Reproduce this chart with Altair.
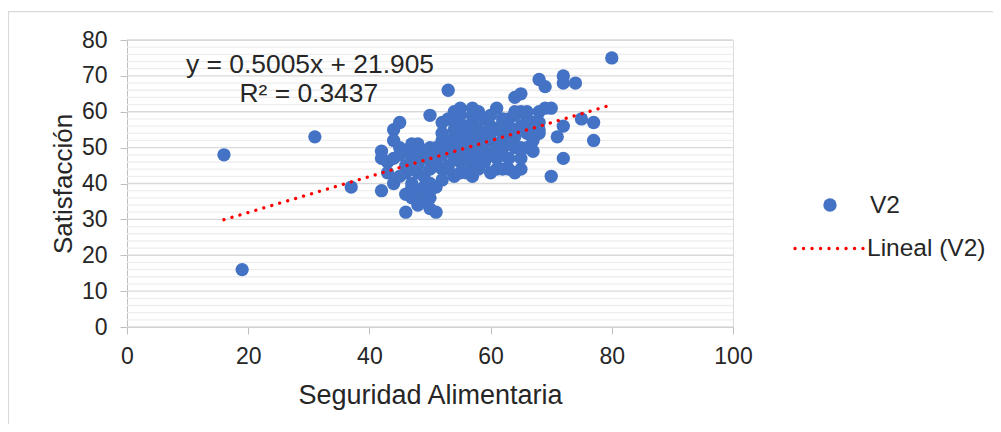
import altair as alt
import pandas as pd

# Scatter data (Seguridad Alimentaria vs Satisfacción)
seguridad = [16, 19, 31, 37, 80,
             42, 42, 42, 43, 43, 44, 44, 45, 44, 45, 44, 46, 46, 45, 46, 47, 45,
             46, 48, 50, 51, 50, 47, 49, 47, 46, 49, 48, 49, 50, 51, 47, 52,
             50, 53, 55, 57, 61, 64, 65, 68, 69, 72, 72, 74,
             47, 48, 50, 52, 52, 54, 55, 57, 59, 63, 65, 68, 70, 69, 66, 64, 62, 60,
             75, 77, 72, 77, 71, 72, 70,
             64, 65, 62, 60, 57, 54,
             67, 65, 64, 67, 68, 68, 65,
             48, 48, 49, 49, 50, 50, 50, 51, 51, 52, 52, 52, 53, 53, 53, 54, 54, 54,
             55, 55, 55, 56, 56, 56, 57, 57, 57, 58, 58, 58, 59, 59, 59, 60, 60, 60,
             61, 61, 61, 62, 62, 62, 63, 63, 63, 64, 65, 66, 66, 66, 67, 68, 57, 55,
             54, 53, 58, 60, 48, 47,
             53, 55, 56, 58, 61, 63, 51, 52, 49, 50, 54, 56, 58, 59, 61, 62, 63, 64,
             67, 66, 64, 62, 60]
satisfaccion = [48, 16, 53, 39, 75,
                38, 49, 47, 46, 43, 40, 55, 57, 52, 50, 47, 45, 43, 48, 49, 44, 42,
                32, 34, 36, 32, 33, 36, 37, 39, 37, 35, 38, 39, 38, 39, 40, 41,
                59, 66, 61, 61, 61, 64, 65, 69, 67, 70, 68, 68,
                51, 51, 50, 57, 54, 57, 56, 59, 58, 58, 60, 60, 61, 61, 60, 59, 58, 56,
                58, 57, 56, 52, 53, 47, 42,
                43, 44, 44, 43, 42, 42,
                49, 47, 50, 52, 55, 54, 50,
                45, 43, 47, 42, 44, 48, 40, 46, 50, 44, 48, 52, 45, 49, 51, 47, 50, 53,
                46, 49, 52, 47, 50, 54, 45, 49, 52, 47, 50, 55, 46, 49, 53, 48, 52, 54,
                47, 51, 55, 48, 50, 54, 47, 51, 55, 53, 56, 50, 54, 57, 55, 57, 57, 59,
                60, 58, 60, 59, 49, 47,
                44, 43, 43, 44, 44, 44, 48, 49, 49, 47, 55, 56, 53, 52, 50, 52, 53, 55,
                57, 58, 60, 57, 55]

# Linear trendline endpoints (from the displayed equation y = 0.5005x + 21.905)
trend_x = [16, 80]
trend_y = [29.913, 61.945]

# Equation annotation
eq_text = ["y = 0.5005x + 21.905", "R² = 0.3437"]
eq_x = [30.2, 30.0]
eq_y = [73.1, 64.9]

# Axis ticks and gridlines
x_ticks = [0, 20, 40, 60, 80, 100]
y_ticks = [0, 10, 20, 30, 40, 50, 60, 70, 80]
y_minor = [v for v in range(0, 81, 2) if v % 10 != 0]

legend_labels = ["V2", "Lineal (V2)"]

FONT = "Liberation Sans"
BLUE = "#4472C4"
W, H = 606, 287

pts = pd.DataFrame({"x": seguridad, "y": satisfaccion})
trend = pd.DataFrame({"x": trend_x, "y": trend_y})
eq = pd.DataFrame({"x": eq_x, "y": eq_y, "t": eq_text})

xscale = alt.Scale(domain=[0, 100], nice=False, zero=True)
yscale = alt.Scale(domain=[0, 80], nice=False, zero=True)

x_axis = alt.Axis(
    values=x_ticks, grid=False, title="Seguridad Alimentaria", labelFlush=False,
    labelOverlap=False,
    domainColor="#bfbfbf", tickColor="#bfbfbf", tickSize=7,
    labelFont=FONT, labelFontSize=23, labelColor="#262626", labelPadding=11,
    titleFont=FONT, titleFontSize=27, titleFontWeight="normal", titleColor="#262626",
    titleX=W / 2, titleY=68, titleBaseline="middle", titleAlign="center",
)
y_axis = alt.Axis(
    values=y_ticks, grid=False, title="Satisfacción", labelFlush=False,
    labelOverlap=False,
    domainColor="#bfbfbf", tickColor="#bfbfbf", tickSize=7,
    labelFont=FONT, labelFontSize=23, labelColor="#262626", labelPadding=13,
    titleFont=FONT, titleFontSize=26, titleFontWeight="normal", titleColor="#262626",
    titleX=-64, titleY=H / 2, titleAngle=270, titleBaseline="middle", titleAlign="center",
)

frame = alt.Chart(pd.DataFrame({"a": [0]})).mark_rect(
    fill="transparent", stroke="#d9d9d9", strokeWidth=1.2
).encode(
    x=alt.value(-118.5), x2=alt.value(2000), y=alt.value(-28.3), y2=alt.value(2000)
)

minor_grid = alt.Chart(pd.DataFrame({"y": y_minor})).mark_rule(
    color="#eeeeee", strokeWidth=1.3
).encode(x=alt.value(0), x2=alt.value(W), y=alt.Y("y:Q", scale=yscale, axis=y_axis))

major_grid = alt.Chart(pd.DataFrame({"y": y_ticks})).mark_rule(
    color="#d9d9d9", strokeWidth=1.3
).encode(x=alt.value(0), x2=alt.value(W), y=alt.Y("y:Q", scale=yscale, axis=y_axis))

points = alt.Chart(pts).mark_circle(size=178, color=BLUE, opacity=1).encode(
    x=alt.X("x:Q", scale=xscale, axis=x_axis),
    y=alt.Y("y:Q", scale=yscale, axis=y_axis),
)

line = alt.Chart(trend).mark_line(
    color="#FF0000", strokeWidth=3.3, strokeDash=[0.1, 8.2], strokeCap="round"
).encode(x=alt.X("x:Q", scale=xscale, axis=x_axis), y=alt.Y("y:Q", scale=yscale, axis=y_axis))

eq_marks = alt.Chart(eq).mark_text(
    font=FONT, fontSize=26.4, color="#262626", align="center", baseline="middle"
).encode(x=alt.X("x:Q", scale=xscale, axis=x_axis), y=alt.Y("y:Q", scale=yscale, axis=y_axis),
         text="t:N")

# Manual legend
leg_dot = alt.Chart(pd.DataFrame({"a": [0]})).mark_circle(size=178, color=BLUE, opacity=1).encode(
    x=alt.value(703), y=alt.value(165)
)
leg_v2 = alt.Chart(pd.DataFrame({"t": [legend_labels[0]]})).mark_text(
    font=FONT, fontSize=24.5, color="#262626", align="left", baseline="middle"
).encode(x=alt.value(743), y=alt.value(166), text="t:N")
leg_line = alt.Chart(pd.DataFrame({"a": [0]})).mark_rule(
    color="#FF0000", strokeWidth=3.3, strokeDash=[0.1, 8.4], strokeCap="round"
).encode(x=alt.value(668), x2=alt.value(736), y=alt.value(208.5))
leg_lin = alt.Chart(pd.DataFrame({"t": [legend_labels[1]]})).mark_text(
    font=FONT, fontSize=24.5, color="#262626", align="left", baseline="middle"
).encode(x=alt.value(740), y=alt.value(209), text="t:N")

chart = alt.layer(
    frame, minor_grid, major_grid, points, line, eq_marks,
    leg_dot, leg_v2, leg_line, leg_lin
).properties(
    width=W, height=H,
    padding={"left": 119, "top": 32, "right": 260, "bottom": 97},
    autosize=alt.AutoSizeParams(type="none"),
).configure_view(strokeWidth=0).configure(background="white")

chart.save("out.html", embed_options={"renderer": "svg", "actions": False})
